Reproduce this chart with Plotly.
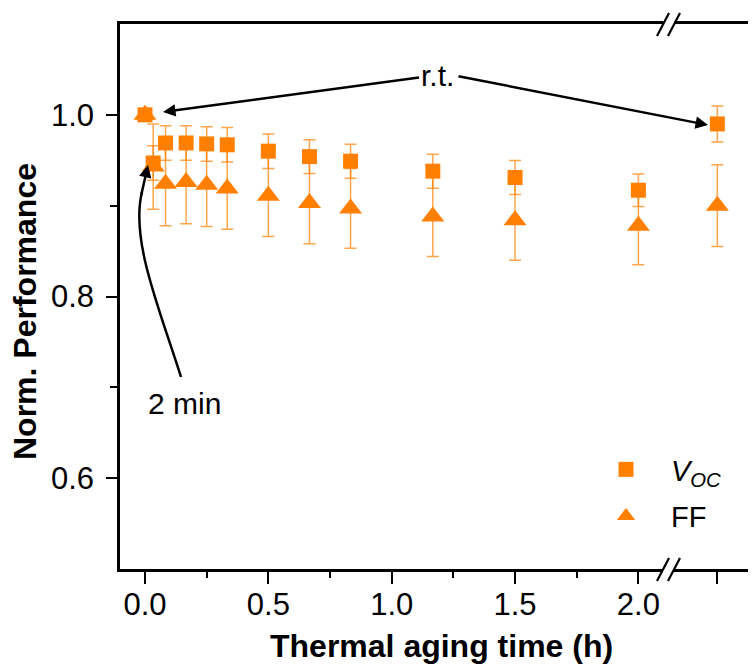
import plotly.graph_objects as go

# ---------------- data ----------------
# aging times in hours; last point is the room-temperature (r.t.) recovery, placed after the axis break
time_labels = ["0", "2 min", "5 min", "10 min", "15 min", "20 min", "30 min", "40 min", "50 min",
               "70 min", "90 min", "120 min", "r.t."]
time_h = [0.0, 2/60, 5/60, 10/60, 15/60, 20/60, 30/60, 40/60, 50/60, 70/60, 90/60, 120/60, 2.32]

voc = [1.000, 0.947, 0.969, 0.969, 0.968, 0.967, 0.960, 0.954, 0.949, 0.938, 0.931, 0.917, 0.990]
voc_err = [0.0, 0.019, 0.019, 0.019, 0.019, 0.019, 0.019, 0.0187, 0.0187, 0.0187, 0.0187, 0.018, 0.0198]

ff = [1.000, 0.943, 0.924, 0.926, 0.923, 0.919, 0.911, 0.903, 0.897, 0.888, 0.884, 0.878, 0.900]
ff_err = [0.0, 0.047, 0.046, 0.046, 0.046, 0.045, 0.045, 0.045, 0.044, 0.044, 0.044, 0.043, 0.045]

x_tickvals = [0.0, 0.5, 1.0, 1.5, 2.0, 2.32]
x_ticktext = ["0.0", "0.5", "1.0", "1.5", "2.0", ""]
x_minor = [0.25, 0.75, 1.25, 1.75]
y_tickvals = [0.6, 0.8, 1.0]
y_ticktext = ["0.6", "0.8", "1.0"]
y_minor = [0.7, 0.9]

# ---------------- style ----------------
ORANGE = "rgb(255,128,0)"
ERR = "rgba(255,128,0,0.7)"
FONT = "Arial, Liberation Sans, sans-serif"
OFF = 8                      # default page body margin
W, H = 756 - OFF, 664 - OFF
PL, PR, PT, PB = 120, 756, 24, 569   # plot area in page pixels
L, T = PL - OFF, PT - OFF
B = H - (PB - OFF)
R = 0
PW, PH = PR - PL, PB - PT


def px(xp):
    return (xp - PL) / PW


def py(yp):
    return (PB - yp) / PH


fig = go.Figure()
fig.add_trace(go.Scatter(
    x=time_h, y=ff, mode="markers", name="FF", legendrank=2, legendgroup="ff",
    marker=dict(symbol="triangle-up", size=20, color=ORANGE, line=dict(width=0)),
    error_y=dict(type="data", array=ff_err, color=ERR, thickness=1.5, width=6),
))
fig.add_trace(go.Scatter(
    x=time_h, y=voc, mode="markers", name="<i>V</i><sub><i>OC</i></sub>", legendrank=1,
    legendgroup="voc",
    marker=dict(symbol="square", size=15, color=ORANGE, line=dict(width=0)),
    error_y=dict(type="data", array=voc_err, color=ERR, thickness=1.5, width=6),
))

fig.update_xaxes(
    range=[-0.1013, 2.4767], tickmode="array", tickvals=x_tickvals, ticktext=x_ticktext,
    ticks="outside", ticklen=12, tickwidth=2, tickcolor="black",
    showline=True, linewidth=2.5, linecolor="black", mirror=True,
    showgrid=False, zeroline=False, tickfont=dict(size=31, color="black"),
    ticklabelstandoff=-6,
    minor=dict(tickmode="array", tickvals=x_minor, ticks="outside", ticklen=6,
               tickwidth=2, tickcolor="black", showgrid=False),
)
fig.update_yaxes(
    range=[0.5, 1.1], tickmode="array", tickvals=y_tickvals, ticktext=y_ticktext,
    ticks="outside", ticklen=11, tickwidth=2, tickcolor="black",
    showline=True, linewidth=2.5, linecolor="black", mirror=False,
    showgrid=False, zeroline=False, tickfont=dict(size=31, color="black"),
    ticklabelstandoff=6,
    minor=dict(tickmode="array", tickvals=y_minor, ticks="outside", ticklen=7,
               tickwidth=2, tickcolor="black", showgrid=False),
)

# axis break marks
shapes = []
for yb in (PT, PB):
    shapes.append(dict(type="rect", xref="paper", yref="paper",
                       x0=px(663), x1=px(674), y0=py(yb + 3), y1=py(yb - 3),
                       fillcolor="white", line=dict(width=0), layer="above"))
    for x0 in (657, 668):
        shapes.append(dict(type="line", xref="paper", yref="paper",
                           x0=px(x0), y0=py(yb + 12), x1=px(x0 + 12), y1=py(yb - 11),
                           line=dict(color="black", width=2.2), layer="above"))

# curved arrow for "2 min"
p0, c1, c2, p1 = (181, 377), (160, 310), (130, 240), (142, 192)
path = "M {},{} C {},{} {},{} {},{}".format(
    px(p0[0]), py(p0[1]), px(c1[0]), py(c1[1]), px(c2[0]), py(c2[1]), px(p1[0]), py(p1[1]))
shapes.append(dict(type="path", xref="paper", yref="paper", path=path,
                   line=dict(color="black", width=2.5), layer="above"))

annotations = [
    dict(text="r.t.", xref="paper", yref="paper", x=px(163), y=py(112),
         ax=437 - 163, ay=75 - 112, showarrow=True, arrowhead=2, arrowsize=1,
         arrowwidth=2.5, arrowcolor="black", font=dict(size=30, color="black")),
    dict(text="", xref="paper", yref="paper", x=px(708), y=py(125),
         ax=457 - 708, ay=76 - 125, showarrow=True, arrowhead=2, arrowsize=1,
         arrowwidth=2.5, arrowcolor="black"),
    dict(text="", xref="paper", yref="paper", x=px(148), y=py(165),
         ax=141 - 148, ay=196 - 165, showarrow=True, arrowhead=2, arrowsize=1,
         arrowwidth=2.5, arrowcolor="black"),
    dict(text="2 min", xref="paper", yref="paper", x=px(184.5), y=py(403),
         xanchor="center", yanchor="middle",
         showarrow=False, font=dict(size=30, color="black")),
    dict(text="<b>Norm. Performance</b>", xref="paper", yref="paper",
         x=px(25), y=py(312), textangle=-90, showarrow=False,
         xanchor="center", yanchor="middle",
         font=dict(size=32, color="black")),
    dict(text="<b>Thermal aging time (h)</b>", xref="paper", yref="paper",
         x=px(441), y=py(646), showarrow=False, xanchor="center", yanchor="middle",
         font=dict(size=32, color="black")),
]

fig.update_layout(
    width=W, height=H, margin=dict(l=L, r=R, t=T, b=B, pad=0),
    plot_bgcolor="white", paper_bgcolor="white",
    font=dict(family=FONT, size=28, color="black"),
    showlegend=True,
    legend=dict(x=px(581), y=py(444), xanchor="left", yanchor="top",
                bgcolor="rgba(0,0,0,0)", font=dict(size=29, color="black"),
                itemwidth=80, tracegroupgap=6),
    shapes=shapes, annotations=annotations,
)

fig.write_html("out.html")
